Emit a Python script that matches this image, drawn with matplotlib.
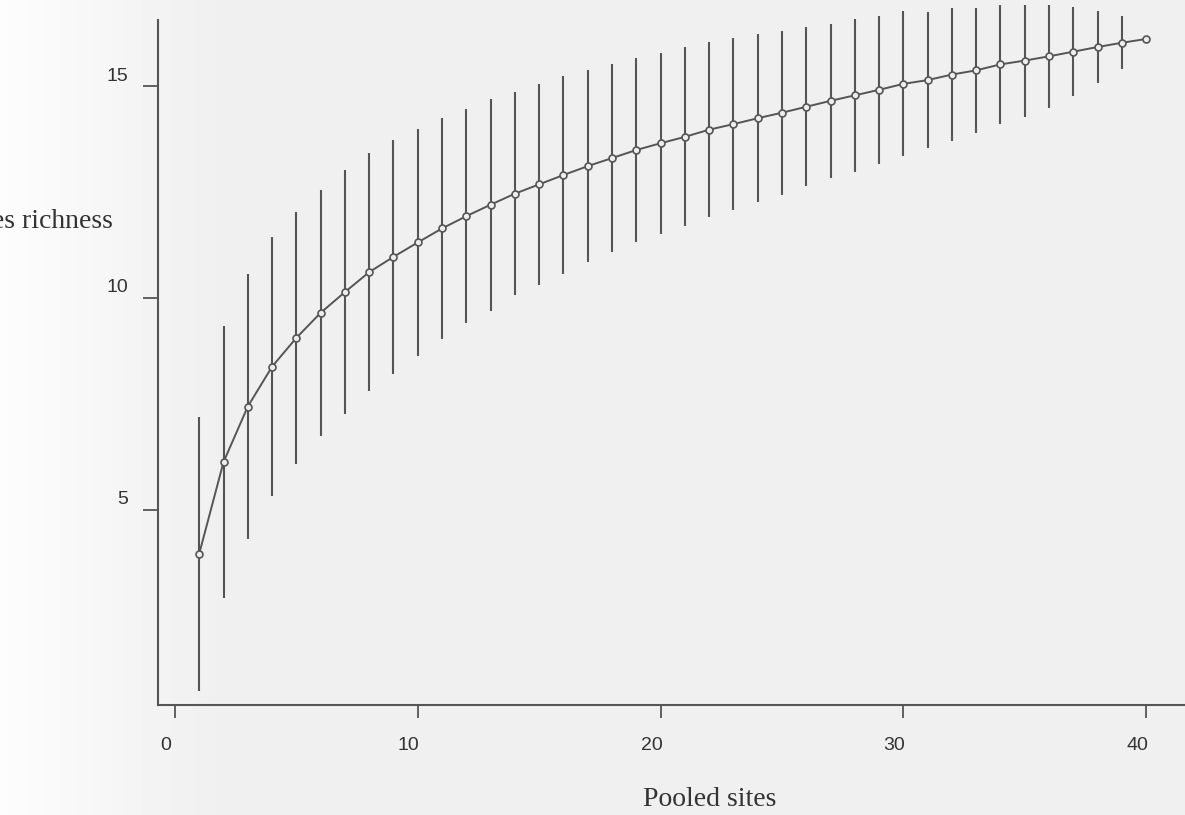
import numpy as np
import matplotlib
matplotlib.use('Agg')
import matplotlib.pyplot as plt
from matplotlib.transforms import ScaledTranslation

# species accumulation curve
sites = list(range(1, 41))
richness = [3.97, 6.13, 7.44, 8.38, 9.06, 9.65, 10.14, 10.61, 10.97, 11.31,
            11.64, 11.93, 12.20, 12.46, 12.68, 12.90, 13.11, 13.30, 13.49, 13.65,
            13.80, 13.97, 14.10, 14.24, 14.37, 14.51, 14.65, 14.78, 14.91, 15.05,
            15.14, 15.27, 15.37, 15.51, 15.60, 15.70, 15.81, 15.92, 16.02, 16.11]
sd = [3.23, 3.20, 3.13, 3.05, 2.97, 2.90, 2.87, 2.81, 2.76, 2.67,
      2.60, 2.53, 2.50, 2.40, 2.37, 2.33, 2.27, 2.22, 2.18, 2.14,
      2.11, 2.07, 2.03, 1.98, 1.93, 1.88, 1.82, 1.80, 1.75, 1.71,
      1.61, 1.56, 1.48, 1.41, 1.32, 1.21, 1.05, 0.85, 0.63, 0.0]
x_ticks = [0, 10, 20, 30, 40]
y_ticks = [5, 10, 15]

col = '#555555'

fig = plt.figure(figsize=(11.85, 8.15), dpi=100, facecolor='#f1f1f1')

# paper-ish background, whiter at the left edge
bg = fig.add_axes([0, 0, 1, 1], zorder=-10)
grad = np.linspace(0, 1, 300)
grad = np.clip(grad / 0.18, 0, 1)
img = 0.99 - 0.05 * grad
bg.imshow(np.tile(img, (10, 1)), cmap='gray', vmin=0, vmax=1,
          aspect='auto', extent=[0, 1, 0, 1])
bg.axis('off')

ax = fig.add_axes([0.1333, 0.135, 0.8667, 0.8557])
ax.patch.set_alpha(0)

ax.errorbar(sites, richness, yerr=sd, fmt='none', ecolor=col,
            elinewidth=1.5, capsize=0, clip_on=False)
ax.plot(sites, richness, color=col, lw=1.4, marker='o', ms=5,
        mfc='#eeeeee', mec=col, mew=1.2, clip_on=False, zorder=3)

ax.set_xlim(-0.7, 41.6)
ax.set_ylim(0.40, 16.85)

for s in ['top', 'right']:
    ax.spines[s].set_visible(False)
for s in ['left', 'bottom']:
    ax.spines[s].set_color(col)
    ax.spines[s].set_linewidth(1.5)
ax.spines['left'].set_bounds(0.40, 16.56)

ax.set_xticks(x_ticks)
ax.set_yticks(y_ticks)
ax.tick_params(axis='x', length=9.4, width=1.3, color=col, pad=14,
               labelsize=14, labelcolor='#333333')
ax.tick_params(axis='y', length=10.5, width=1.3, color=col, pad=11,
               labelsize=14, labelcolor='#333333')
for lab in ax.get_xticklabels():
    lab.set_fontfamily('Liberation Sans')
    lab.set_transform(lab.get_transform() + ScaledTranslation(-0.09, 0, fig.dpi_scale_trans))
for lab in ax.get_yticklabels():
    lab.set_fontfamily('Liberation Sans')
    lab.set_transform(lab.get_transform() + ScaledTranslation(0, 0.12, fig.dpi_scale_trans))

fig.text(113 / 1185, 1 - 222 / 815, 'Species richness', ha='right', va='center',
         fontsize=20, family='Liberation Serif', color='#333333')
fig.text(710 / 1185, 1 - 800 / 815, 'Pooled sites', ha='center', va='center',
         fontsize=20, family='Liberation Serif', color='#333333')

fig.savefig('out.png', dpi=100, facecolor=fig.get_facecolor())
